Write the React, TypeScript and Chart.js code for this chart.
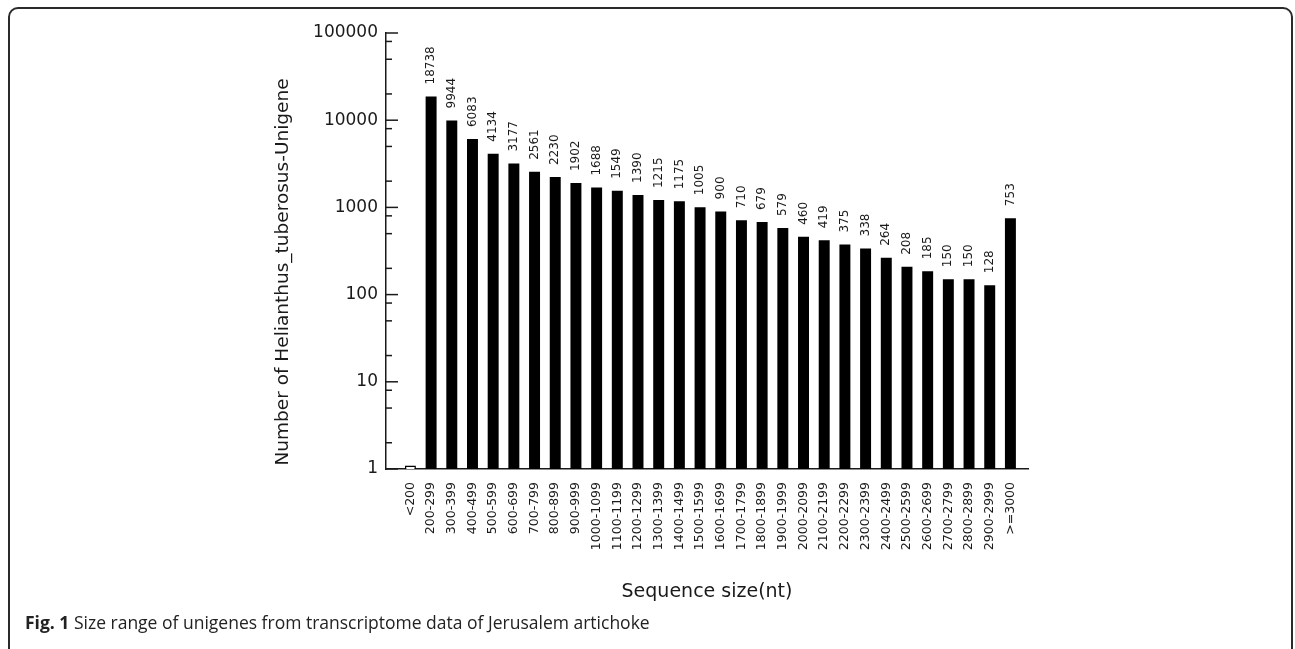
import React, { useEffect, useRef } from "react";
import { Chart, registerables } from "chart.js";

Chart.register(...registerables);

const categories = [
  "<200", "200-299", "300-399", "400-499", "500-599", "600-699", "700-799", "800-899",
  "900-999", "1000-1099", "1100-1199", "1200-1299", "1300-1399", "1400-1499", "1500-1599",
  "1600-1699", "1700-1799", "1800-1899", "1900-1999", "2000-2099", "2100-2199", "2200-2299",
  "2300-2399", "2400-2499", "2500-2599", "2600-2699", "2700-2799", "2800-2899", "2900-2999",
  ">=3000",
];

const unigeneCounts = [
  1.1, 18738, 9944, 6083, 4134, 3177, 2561, 2230, 1902, 1688, 1549, 1390, 1215, 1175, 1005,
  900, 710, 679, 579, 460, 419, 375, 338, 264, 208, 185, 150, 150, 128, 753,
];

const yTickValues = [1, 10, 100, 1000, 10000, 100000];
const yTitle = "Number of Helianthus_tuberosus-Unigene";
const xTitle = "Sequence size(nt)";
const captionBold = "Fig. 1";
const captionText = " Size range of unigenes from transcriptome data of Jerusalem artichoke";

const INK = "#1a1a1a";

const decorPlugin = {
  id: "decor",
  afterDatasetsDraw(chart: any) {
    const ctx = chart.ctx as CanvasRenderingContext2D;
    const yScale = chart.scales.y;
    const area = chart.chartArea;
    const meta = chart.getDatasetMeta(0);
    ctx.save();
    // value labels
    ctx.fillStyle = INK;
    ctx.font = "12px 'DejaVu Sans'";
    meta.data.forEach((bar: any, i: number) => {
      const v = unigeneCounts[i];
      if (v < 2) return;
      ctx.save();
      ctx.translate(bar.x, bar.y - 12);
      ctx.rotate(-Math.PI / 2);
      ctx.textAlign = "left";
      ctx.textBaseline = "middle";
      ctx.fillText(String(v), 0, 0);
      ctx.restore();
    });
    // inward tick marks (major + minor) on log axis
    ctx.strokeStyle = INK;
    ctx.lineWidth = 1.5;
    const left = area.left;
    const maxV = yTickValues[yTickValues.length - 1];
    yTickValues.forEach((d) => {
      const py = yScale.getPixelForValue(d);
      ctx.beginPath();
      ctx.moveTo(left, py);
      ctx.lineTo(left + 12, py);
      ctx.stroke();
      if (d < maxV) {
        [2, 5, 8].forEach((m) => {
          const pm = yScale.getPixelForValue(d * m);
          ctx.beginPath();
          ctx.moveTo(left, pm);
          ctx.lineTo(left + 6, pm);
          ctx.stroke();
        });
      }
    });
    // y axis title
    ctx.save();
    ctx.font = "18.5px 'DejaVu Sans'";
    ctx.fillStyle = INK;
    ctx.translate(283, (area.top + area.bottom) / 2 + 21);
    ctx.rotate(-Math.PI / 2);
    ctx.textAlign = "center";
    ctx.textBaseline = "middle";
    ctx.fillText(yTitle, 0, 0);
    ctx.restore();
    ctx.restore();
  },
};

export default function App() {
  const canvasRef = useRef<HTMLCanvasElement | null>(null);

  useEffect(() => {
    const canvas = canvasRef.current;
    if (!canvas) return;
    const chart = new Chart(canvas, {
      type: "bar",
      data: {
        datasets: [
          {
            data: unigeneCounts.map((v, i) => ({ x: i, y: v })),
            backgroundColor: unigeneCounts.map((v) => (v < 2 ? "#ffffff" : "#000000")),
            borderColor: "#000000",
            borderWidth: unigeneCounts.map((v) => (v < 2 ? 1.5 : 0)),
            barPercentage: 0.53,
            categoryPercentage: 1,
          } as any,
        ],
      },
      options: {
        animation: false,
        responsive: false,
        maintainAspectRatio: false,
        layout: { padding: { top: 33, right: 267, left: 0, bottom: 0 } },
        plugins: { legend: { display: false }, tooltip: { enabled: false } },
        scales: {
          x: {
            type: "linear",
            offset: false,
            min: -1.18,
            max: 29.85,
            afterBuildTicks: (scale: any) => {
              scale.ticks = categories.map((_, i) => ({ value: i }));
            },
            afterFit: (scale: any) => {
              scale.height = 649 - 469;
            },
            grid: { display: false, drawTicks: false },
            border: { display: true, color: INK, width: 1.5 },
            ticks: {
              autoSkip: false,
              maxRotation: 90,
              minRotation: 90,
              padding: 13,
              color: INK,
              font: { family: "'DejaVu Sans'", size: 12.5 },
              callback: (value: any) => categories[value as number] ?? "",
            },
            title: {
              display: true,
              text: xTitle,
              color: INK,
              font: { family: "'DejaVu Sans'", size: 19 },
              padding: { top: 0, bottom: 46 },
            },
          },
          y: {
            type: "logarithmic",
            min: 1,
            max: 100000,
            afterBuildTicks: (scale: any) => {
              scale.ticks = yTickValues.map((v) => ({ value: v }));
            },
            afterFit: (scale: any) => {
              scale.width = 386;
            },
            grid: { display: false, drawTicks: false },
            border: { display: true, color: INK, width: 1.5 },
            ticks: {
              padding: 8,
              color: INK,
              font: { family: "'DejaVu Sans'", size: 17 },
              callback: (value: any) => String(value),
            },
          },
        },
      },
      plugins: [decorPlugin],
    } as any);
    return () => chart.destroy();
  }, []);

  return (
    <div style={{ position: "fixed", left: 0, top: 0, width: 1295, height: 649, background: "#fff", overflow: "hidden" }}>
      <div
        style={{
          position: "absolute",
          left: 8,
          top: 7,
          width: 1285,
          height: 800,
          border: "2px solid #2a2a2a",
          borderRadius: 10,
          boxSizing: "border-box",
        }}
      />
      <canvas
        ref={canvasRef}
        width={1295}
        height={649}
        style={{ position: "absolute", left: 0, top: 0, width: 1295, height: 649 }}
      />
      <div
        style={{
          position: "absolute",
          left: 25,
          top: 611,
          lineHeight: "22px",
          fontFamily: "'Open Sans', sans-serif",
          fontSize: 17.5,
          color: "#222",
          whiteSpace: "nowrap",
        }}
      >
        <b>{captionBold}</b>
        {captionText}
      </div>
    </div>
  );
}
